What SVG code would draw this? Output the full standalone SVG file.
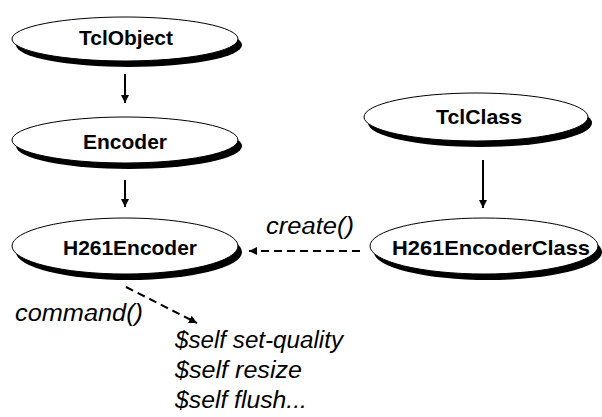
<svg xmlns="http://www.w3.org/2000/svg" width="602" height="417" viewBox="0 0 602 417">
<defs>
<style>
.sh{fill:#000}
.bd{fill:#fff;stroke:#000;stroke-width:1}
.nt{font-family:"Liberation Sans",Arial,sans-serif;font-weight:bold;font-size:21px;text-anchor:middle;fill:#000}
.lb{font-family:"Liberation Sans",Arial,sans-serif;font-style:italic;font-size:23px;fill:#000}
.sl{stroke:#000;stroke-width:2;fill:none}
.dl{stroke:#000;stroke-width:2;fill:none;stroke-dasharray:8 5}
</style>
<marker id="ah" viewBox="0 0 10 10" refX="10" refY="5" markerWidth="4" markerHeight="4" orient="auto" markerUnits="strokeWidth">
<path d="M0,0 L10,5 L0,10 z" fill="#000"/>
</marker>
</defs>
<rect width="602" height="417" fill="#fff"/>
<g id="connectors">
<line class="sl" x1="125" y1="74" x2="125" y2="103" marker-end="url(#ah)"/>
<line class="sl" x1="125" y1="180" x2="125" y2="207" marker-end="url(#ah)"/>
<line class="sl" x1="483" y1="160" x2="483" y2="208" marker-end="url(#ah)"/>
<line class="dl" x1="360" y1="251" x2="249" y2="251" marker-end="url(#ah)"/>
<line class="dl" x1="126" y1="287" x2="197" y2="323" marker-end="url(#ah)"/>
</g>
<g id="TclObject">
<ellipse class="sh" cx="129" cy="45" rx="113" ry="22"/>
<ellipse class="bd" cx="125" cy="39" rx="113" ry="22"/>
<text class="nt" x="126" y="45" textLength="94" lengthAdjust="spacingAndGlyphs">TclObject</text>
</g>
<g id="Encoder">
<ellipse class="sh" cx="129" cy="146" rx="113" ry="23"/>
<ellipse class="bd" cx="125" cy="140" rx="113" ry="23"/>
<text class="nt" x="125" y="149" textLength="84" lengthAdjust="spacingAndGlyphs">Encoder</text>
</g>
<g id="H261Encoder">
<ellipse class="sh" cx="129" cy="252" rx="113" ry="28"/>
<ellipse class="bd" cx="125" cy="246" rx="113" ry="28"/>
<text class="nt" x="130" y="255" textLength="134" lengthAdjust="spacingAndGlyphs">H261Encoder</text>
</g>
<g id="TclClass">
<ellipse class="sh" cx="480" cy="123" rx="112" ry="24"/>
<ellipse class="bd" cx="476" cy="117" rx="112" ry="24"/>
<text class="nt" x="479" y="124" textLength="86" lengthAdjust="spacingAndGlyphs">TclClass</text>
</g>
<g id="H261EncoderClass">
<ellipse class="sh" cx="488" cy="252" rx="114" ry="28"/>
<ellipse class="bd" cx="484" cy="246" rx="114" ry="28"/>
<text class="nt" x="491" y="255" textLength="198" lengthAdjust="spacingAndGlyphs">H261EncoderClass</text>
</g>
<g id="labels">
<text class="lb" x="266" y="234" textLength="88" lengthAdjust="spacingAndGlyphs">create()</text>
<text class="lb" x="15" y="321" textLength="128" lengthAdjust="spacingAndGlyphs">command()</text>
<text class="lb" x="175" y="348" textLength="168" lengthAdjust="spacingAndGlyphs">$self set-quality</text>
<text class="lb" x="175" y="378" textLength="127" lengthAdjust="spacingAndGlyphs">$self resize</text>
<text class="lb" x="175" y="408" textLength="132" lengthAdjust="spacingAndGlyphs">$self flush...</text>
</g>
</svg>
